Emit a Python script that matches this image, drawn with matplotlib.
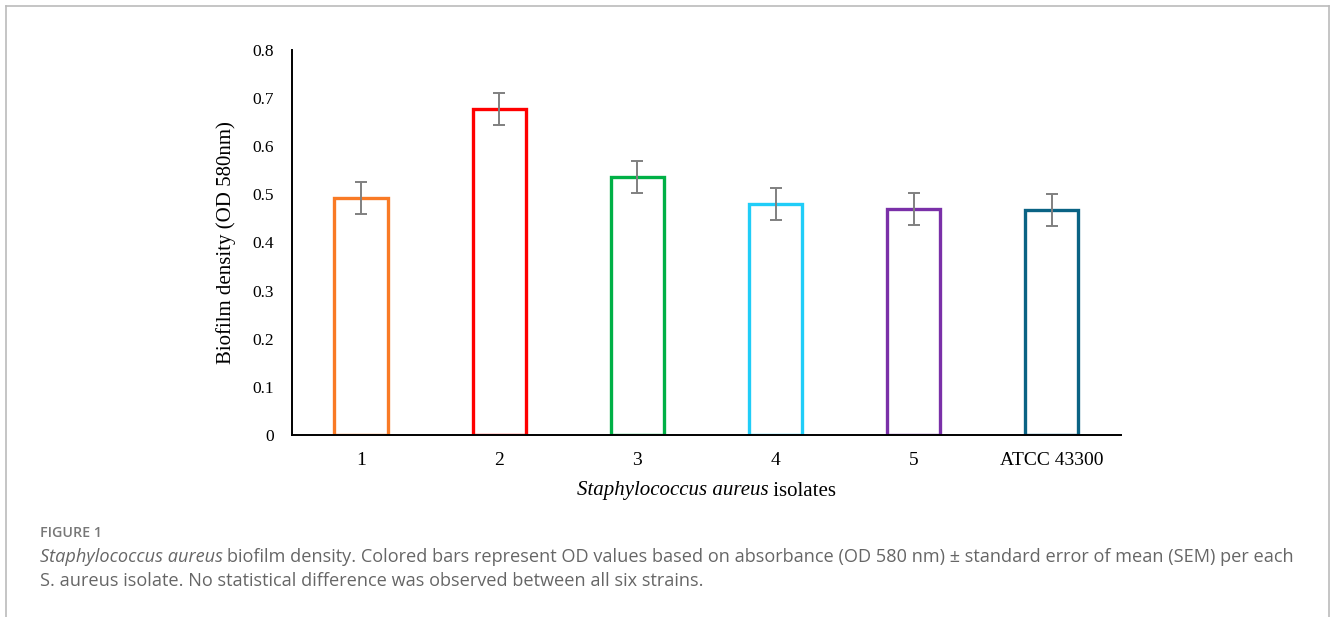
import matplotlib
matplotlib.use("Agg")
import matplotlib.pyplot as plt
from matplotlib.lines import Line2D
import numpy as np

# values
isolates = ["1", "2", "3", "4", "5", "ATCC 43300"]
od_mean = [0.493, 0.678, 0.536, 0.480, 0.469, 0.468]
od_sem = [0.033, 0.033, 0.033, 0.033, 0.033, 0.033]
bar_colors = ["#F97A25", "#FF0000", "#00B046", "#20CDF8", "#7A30A8", "#0A6384"]
y_ticks = [0, 0.1, 0.2, 0.3, 0.4, 0.5, 0.6, 0.7, 0.8]

serif = ["Liberation Serif", "DejaVu Serif"]
sans = ["Open Sans", "DejaVu Sans"]
W, H = 1330, 617

fig = plt.figure(figsize=(W / 100, H / 100), dpi=100)
ax = fig.add_axes([0.2195, 0.295, 0.6233, 0.624])

x = np.arange(len(isolates))
ax.bar(x, od_mean, width=0.385, facecolor="white", edgecolor=bar_colors,
       linewidth=2.4, zorder=2)
ax.errorbar(x, od_mean, yerr=od_sem, fmt="none", ecolor="#808080",
            elinewidth=1.4, capsize=4, capthick=1.4, zorder=3)

ax.set_xlim(-0.5, len(isolates) - 0.5)
ax.set_ylim(0, 0.8)
ax.set_yticks(y_ticks)
ax.set_yticklabels([f"{v:g}" for v in y_ticks], family=serif, fontsize=12.5)
ax.set_xticks(x)
ax.set_xticklabels(isolates, family=serif, fontsize=14)
ax.tick_params(axis="y", length=0, pad=13)
ax.tick_params(axis="x", length=0, pad=12)

for side in ("top", "right"):
    ax.spines[side].set_visible(False)
for side in ("left", "bottom"):
    ax.spines[side].set_linewidth(1.4)
    ax.spines[side].set_color("black")

ax.set_ylabel("Biofilm density (OD 580nm)", family=serif, fontsize=15, labelpad=12)

# x axis title: italic species name followed by upright word, centred as a unit
xt1 = fig.text(0, 1 - 491 / H, "Staphylococcus aureus", family=serif, fontsize=15,
               style="italic", va="center")
xt2 = fig.text(0, 1 - 491 / H, " isolates", family=serif, fontsize=15, va="center")
fig.canvas.draw()
w1 = xt1.get_window_extent().width
w2 = xt2.get_window_extent().width
cx = (292 + 1121) / 2
x0 = cx - (w1 + w2) / 2
xt1.set_x(x0 / W)
xt2.set_x((x0 + w1) / W)

# frame around the figure panel
for xs, ys in (((6, 6), (0, 611)), ((6, 1329), (611, 611)), ((1329, 1329), (611, 0))):
    fig.add_artist(Line2D([v / W for v in xs], [v / H for v in ys],
                          color="#BBBBBB", linewidth=1.2))

# caption
cap_color = "#666666"
cap_size = 13.1
fig.text(40 / W, 1 - 533 / H, "FIGURE 1", family=sans, fontsize=10.3,
         weight="semibold", color="#777777", va="center")
t1 = fig.text(40 / W, 1 - 557 / H, "Staphylococcus aureus", family=sans,
              fontsize=cap_size, style="italic", color=cap_color, va="center")
fig.canvas.draw()
bb = t1.get_window_extent()
fig.text((bb.x1 + 4) / W, 1 - 557 / H,
         "biofilm density. Colored bars represent OD values based on absorbance "
         "(OD 580 nm) ± standard error of mean (SEM) per each",
         family=sans, fontsize=cap_size, color=cap_color, va="center")
fig.text(40 / W, 1 - 581 / H,
         "S. aureus isolate. No statistical difference was observed between all six strains.",
         family=sans, fontsize=cap_size, color=cap_color, va="center")

fig.savefig("out.png", dpi=100)
